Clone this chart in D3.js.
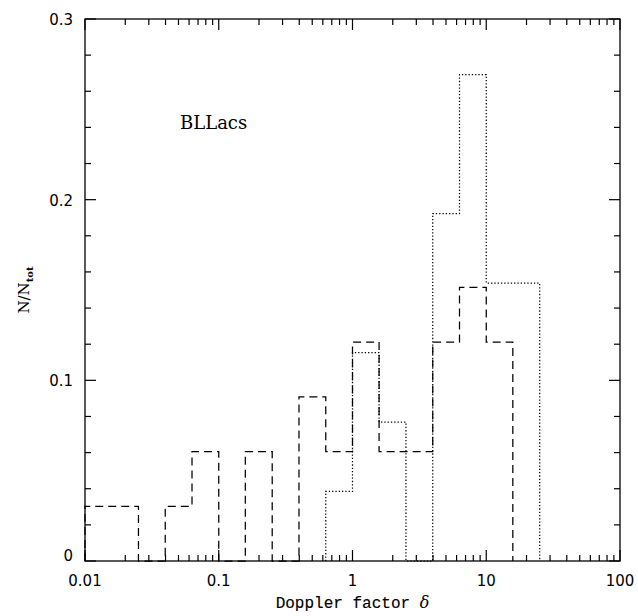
<!DOCTYPE html>
<html>
<head>
<meta charset="utf-8">
<script src="https://cdn.jsdelivr.net/npm/d3@7"></script>
<style>
body { margin: 0; background: #fff; }
.frame { fill: none; stroke: #000; stroke-width: 1.3; }
.tick { stroke: #000; stroke-width: 1.2; }
.tickLabel { font-family: "DejaVu Sans", sans-serif; font-size: 15px; fill: #000; }
.axisTitle { font-family: "Liberation Mono", monospace; font-size: 16px; fill: #000; stroke: #000; stroke-width: 0.15; }
.yTitle { font-family: "DejaVu Serif", serif; font-size: 15px; fill: #000; }
.hist { fill: none; stroke: #000; stroke-width: 1.25; }
</style>
</head>
<body>
<script>
(function(){

//bin edges (doppler factor) and fractions for the two histograms
var dashedEdges = [0.01, 0.0158, 0.0251, 0.0398, 0.0631, 0.1, 0.158, 0.251, 0.398, 0.631, 1, 1.58, 2.51, 3.98, 6.31, 10, 15.8];
var dashedValues = [0.0303, 0.0303, 0, 0.0303, 0.0606, 0, 0.0606, 0, 0.0909, 0.0606, 0.1212, 0.0606, 0.0606, 0.1212, 0.1515, 0.1212];

var dottedEdges = [0.631, 1, 1.58, 2.51, 3.98, 6.31, 10, 15.8, 25.1];
var dottedValues = [0.0385, 0.1154, 0.0769, 0, 0.1923, 0.2692, 0.1538, 0.1538];

var xTickLabels = ["0.01", "0.1", "1", "10", "100"];
var yTickLabels = ["0", "0.1", "0.2", "0.3"];

window.onload = setChart;

function setChart(){
    var width = 638,
        height = 616,
        left = 85,
        right = 620,
        top = 19,
        bottom = 561;

    var svg = d3.select("body")
        .append("svg")
        .attr("width", width)
        .attr("height", height);

    var x = d3.scaleLog().domain([0.01, 100]).range([left, right]);
    var y = d3.scaleLinear().domain([0, 0.3]).range([bottom, top]);

    //x ticks, top and bottom, pointing in
    var xTicks = x.ticks();
    xTicks.forEach(function(t){
        var major = Math.abs(Math.log10(t) - Math.round(Math.log10(t))) < 1e-6;
        var len = major ? 11 : 6;
        var px = x(t);
        svg.append("line").attr("class", "tick")
            .attr("x1", px).attr("x2", px).attr("y1", bottom).attr("y2", bottom - len);
        svg.append("line").attr("class", "tick")
            .attr("x1", px).attr("x2", px).attr("y1", top).attr("y2", top + len);
    });

    //y ticks, left and right
    d3.range(0, 16).forEach(function(i){
        var v = i * 0.02;
        var major = i % 5 === 0;
        var len = major ? 11 : 6;
        var py = y(v);
        svg.append("line").attr("class", "tick")
            .attr("x1", left).attr("x2", left + len).attr("y1", py).attr("y2", py);
        svg.append("line").attr("class", "tick")
            .attr("x1", right).attr("x2", right - len).attr("y1", py).attr("y2", py);
    });

    svg.selectAll(".xLabel")
        .data(xTickLabels)
        .enter()
        .append("text")
        .attr("class", "tickLabel")
        .attr("text-anchor", "middle")
        .attr("x", function(d){ return x(+d); })
        .attr("y", bottom + 25)
        .text(function(d){ return d; });

    svg.selectAll(".yLabel")
        .data(yTickLabels)
        .enter()
        .append("text")
        .attr("class", "tickLabel")
        .attr("text-anchor", "end")
        .attr("x", left - 12)
        .attr("y", function(d){ return y(+d) + (d === "0" ? 0 : 6); })
        .text(function(d){ return d; });

    //histograms
    drawHist(svg, x, y, dashedEdges, dashedValues, "8,5");
    drawHist(svg, x, y, dottedEdges, dottedValues, "1.3,2");

    svg.append("rect")
        .attr("class", "frame")
        .attr("x", left)
        .attr("y", top)
        .attr("width", right - left)
        .attr("height", bottom - top);

    //labels
    svg.append("text")
        .attr("class", "axisTitle")
        .attr("x", (left + right) / 2)
        .attr("y", 608)
        .attr("text-anchor", "middle")
        .text("Doppler factor ")
        .append("tspan")
        .style("font-family", "DejaVu Serif, serif")
        .style("font-style", "italic")
        .style("stroke-width", 0)
        .text("δ");

    var yt = svg.append("text")
        .attr("class", "yTitle")
        .attr("text-anchor", "middle")
        .attr("transform", "translate(29,290) rotate(-90)");
    yt.append("tspan").text("N/N");
    yt.append("tspan").attr("dy", 4).style("font-size", "10px").style("font-weight", "bold").text("tot");

    svg.append("text")
        .attr("x", 180)
        .attr("y", 129)
        .style("font-family", "DejaVu Serif, serif")
        .style("font-size", "18px")
        .text("BLLacs");
}

function drawHist(svg, x, y, edges, values, dash){
    var pts = [[edges[0], 0]];
    values.forEach(function(v, i){
        pts.push([edges[i], v]);
        pts.push([edges[i + 1], v]);
    });
    pts.push([edges[edges.length - 1], 0]);

    var line = d3.line()
        .x(function(d){ return x(d[0]); })
        .y(function(d){ return y(d[1]); });

    svg.append("path")
        .datum(pts)
        .attr("class", "hist")
        .attr("stroke-dasharray", dash)
        .attr("d", line);
}

})();
</script>
</body>
</html>
